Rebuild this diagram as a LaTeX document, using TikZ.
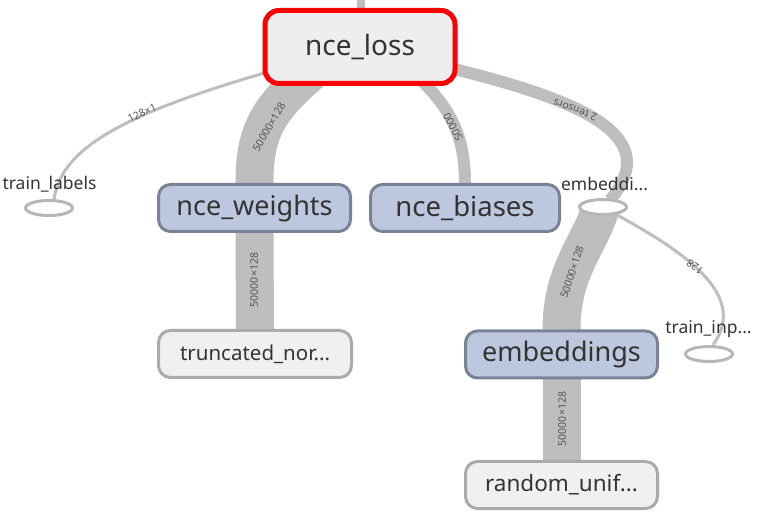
\documentclass[tikz,border=0pt]{standalone}
\usepackage{fontspec}
\setmainfont{Noto Sans}
\usetikzlibrary{backgrounds,calc,shapes.geometric}
\definecolor{edgegray}{RGB}{190,190,190}
\definecolor{bluefill}{RGB}{189,199,222}
\definecolor{blueline}{RGB}{122,130,150}
\definecolor{grayfill}{RGB}{240,240,240}
\definecolor{grayline}{RGB}{170,170,170}
\definecolor{lossfill}{RGB}{238,238,238}
\definecolor{txt}{RGB}{51,51,51}
\definecolor{lbl}{RGB}{85,85,85}
\tikzset{
  lossbox/.style={draw=red, line width=5pt, fill=lossfill, rounded corners=14pt, minimum width=190pt, minimum height=73pt, text=txt, font=\fontsize{28}{30}\selectfont},
  bluebox/.style={draw=blueline, line width=3pt, fill=bluefill, rounded corners=12pt, minimum height=47pt, inner sep=0pt, text=txt, font=\fontsize{27}{30}\selectfont},
  graybox/.style={draw=grayline, line width=3pt, fill=grayfill, rounded corners=12pt, minimum width=193pt, minimum height=47pt, inner sep=0pt, text=txt},
  inbox/.style={ellipse, draw=grayline!85, line width=3pt, fill=white, minimum width=47pt, minimum height=15pt, inner sep=0pt},
  inlabel/.style={text=txt, font=\fontsize{17.5}{20}\selectfont, inner sep=0pt},
  edge/.style={draw=edgegray, line cap=butt},
  elabel/.style={text=lbl, font=\fontsize{10.5}{12}\selectfont, inner sep=0pt}
}
\begin{document}
\begin{tikzpicture}[x=1pt,y=-1pt]
\useasboundingbox (0,0) rectangle (766,518);
% nodes
\node[lossbox] (loss) at (360,47) {nce\_loss};
\node[bluebox, minimum width=192pt] (w) at (254.5,208) {nce\_weights};
\node[bluebox, minimum width=189pt, font=\fontsize{27.5}{30}\selectfont] (b) at (465,208) {nce\_biases};
\node[graybox, font=\fontsize{20.5}{24}\selectfont] (tn) at (255,354) {truncated\_nor...};
\node[bluebox, minimum width=192pt] (emb) at (561.5,354.5) {embeddings};
\node[graybox, minimum width=192pt, font=\fontsize{22.5}{26}\selectfont] (ru) at (561.5,485) {random\_unif...};
\node[inbox] (tl) at (49,208) {};
\node[inbox] (e) at (603,207) {};
\node[inbox] (ti) at (709,354) {};
\node[inlabel] (tlt) at (49.5,184) {train\_labels};
\node[inlabel] (et) at (604.5,184) {embeddi...};
\node[inlabel] (tit) at (708.5,329) {train\_inp...};
\coordinate (top) at (361,0);
% edges
\begin{pgfonlayer}{background}
\draw[edge, line width=8pt] (top) -- (top |- loss.center);
\draw[edge, line width=3pt] ($(loss.south west)+(2,-13)$) .. controls (120,115) and (60,150) .. ($(tl.north)+(5,1)$);
\draw[edge, line width=38pt] ($(loss.center)+(-42,19)$) .. controls (268,108) and (254.5,130) .. (w.north);
\draw[edge, line width=12pt] ($(loss.center)+(50,23)$) .. controls (450,105) and (465,135) .. (b.north);
\draw[edge, line width=12pt] ($(loss.center)+(90,21)$) .. controls (580,100) and (665,135) .. ($(e.north)+(7,2)$);
\draw[edge, line width=38pt] ($(e.center)+(-2,0)$) .. controls (590,245) and (561.5,270) .. (emb.north);
\draw[edge, line width=3pt] (e.-30) .. controls (700,260) and (745,300) .. ($(ti.north)+(4,0)$);
\draw[edge, line width=38pt] (w.south) -- (tn.north);
\draw[edge, line width=38pt] (emb.south) -- (ru.north);
\node[elabel, rotate=25] (l1) at (142,113) {128×1};
\node[elabel, rotate=60] (l2) at (269,127) {50000×128};
\node[elabel, rotate=118] (l3) at (453,127) {50000};
\node[elabel, rotate=160] (l4) at (575,110) {2 tensors};
\node[elabel, rotate=72] (l5) at (572,272) {50000×128};
\node[elabel, rotate=142] (l6) at (695,267) {128};
\node[elabel, rotate=90] (l7) at (254,280) {50000×128};
\node[elabel, rotate=90] (l8) at (562,419) {50000×128};
\end{pgfonlayer}
\end{tikzpicture}
\end{document}
